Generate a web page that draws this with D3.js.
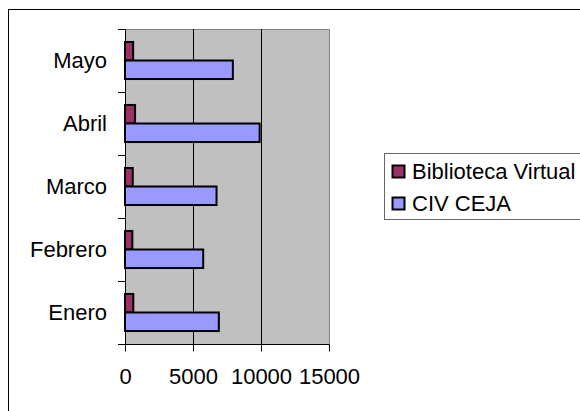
<!DOCTYPE html>
<html>
<head>
<meta charset="utf-8">
<script src="https://cdn.jsdelivr.net/npm/d3@7"></script>
<style>
  html, body { margin: 0; padding: 0; background: #fff; }
  svg { display: block; font-family: "Liberation Sans", Arial, sans-serif; }
</style>
</head>
<body>
<svg id="chart" width="580" height="411"></svg>
<script>
const categories = ["Enero", "Febrero", "Marco", "Abril", "Mayo"];
const seriesNames = ["Biblioteca Virtual", "CIV CEJA"];
const bibliotecaVirtual = [610, 540, 570, 740, 600];
const civCeja = [6900, 5750, 6730, 9900, 7930];
const xTicks = [0, 5000, 10000, 15000];
const seriesColors = ["#993366", "#9999FF"];

const seriesValues = [bibliotecaVirtual, civCeja];
const svg = d3.select("#chart");
const FS = 22;

const plot = { left: 125, right: 329, top: 29, bottom: 344 };

// outer border
svg.append("rect")
  .attr("x", 8.5).attr("y", 9.5)
  .attr("width", 620).attr("height", 430)
  .attr("fill", "#fff").attr("stroke", "#000").attr("stroke-width", 1);

const x = d3.scaleLinear().domain([0, 15000]).range([plot.left, plot.right]);
const y = d3.scaleBand().domain(categories).range([plot.bottom, plot.top]).paddingInner(0).paddingOuter(0);
const y1 = d3.scaleBand().domain(seriesNames).range([0, y.bandwidth()]).paddingInner(0).paddingOuter(0.7);

// plot background
svg.append("rect")
  .attr("x", plot.left).attr("y", plot.top)
  .attr("width", plot.right - plot.left).attr("height", plot.bottom - plot.top)
  .attr("fill", "#C0C0C0");
svg.append("path")
  .attr("d", `M${plot.left},${plot.top + 0.5}H${plot.right + 0.5}V${plot.bottom}`)
  .attr("fill", "none").attr("stroke", "#808080").attr("stroke-width", 1);

// gridlines
svg.append("g").selectAll("line")
  .data(xTicks.filter(t => t > 0 && t < 15000))
  .join("line")
  .attr("x1", d => Math.round(x(d)) + 0.5).attr("x2", d => Math.round(x(d)) + 0.5)
  .attr("y1", plot.top).attr("y2", plot.bottom)
  .attr("stroke", "#000").attr("stroke-width", 1);

// bars
const rows = categories.map((c, i) => ({ cat: c, vals: seriesNames.map((s, j) => ({ s, j, v: seriesValues[j][i] })) }));
const groups = svg.append("g").selectAll("g")
  .data(rows).join("g")
  .attr("transform", d => `translate(0,${y(d.cat)})`);
groups.selectAll("rect")
  .data(d => d.vals).join("rect")
  .attr("x", x(0))
  .attr("y", d => y1(d.s))
  .attr("width", d => x(d.v) - x(0))
  .attr("height", y1.bandwidth())
  .attr("fill", d => seriesColors[d.j])
  .attr("stroke", "#000").attr("stroke-width", 2);

// left axis labels
const yAxis = d3.axisLeft(y).tickSize(0).tickPadding(18);
const gy = svg.append("g").attr("transform", `translate(${plot.left},0)`).call(yAxis);
gy.select(".domain").remove();
gy.selectAll("text").attr("font-size", FS).attr("fill", "#000")
  .attr("font-family", "Liberation Sans, Arial, sans-serif");
// left axis line and boundary ticks
const bounds = categories.map(c => y(c)).concat([plot.bottom]);
svg.append("line")
  .attr("x1", plot.left + 0.5).attr("x2", plot.left + 0.5)
  .attr("y1", plot.top).attr("y2", plot.bottom)
  .attr("stroke", "#000").attr("stroke-width", 1);
svg.append("g").selectAll("line").data(bounds).join("line")
  .attr("x1", plot.left - 7).attr("x2", plot.left)
  .attr("y1", d => Math.round(d) + 0.5).attr("y2", d => Math.round(d) + 0.5)
  .attr("stroke", "#000").attr("stroke-width", 1);

// bottom axis
const xAxis = d3.axisBottom(x).tickValues(xTicks).tickSize(7).tickPadding(16.5).tickSizeOuter(0).tickFormat(d3.format("d"));
const gx = svg.append("g").attr("transform", `translate(0,${plot.bottom + 0.5})`).call(xAxis);
gx.select(".domain").attr("d", `M${plot.left - 7},0H${plot.right + 0.5}`).attr("stroke", "#000");
gx.selectAll("line").attr("stroke", "#000");
gx.selectAll("text").attr("font-size", FS).attr("fill", "#000")
  .attr("font-family", "Liberation Sans, Arial, sans-serif");

// legend
const lg = svg.append("g");
lg.append("rect")
  .attr("x", 384.5).attr("y", 153.5).attr("width", 230).attr("height", 66)
  .attr("fill", "#fff").attr("stroke", "#666").attr("stroke-width", 1);
const items = lg.selectAll("g.item").data(seriesNames).join("g").attr("class", "item")
  .attr("transform", (d, i) => `translate(392,${165 + i * 32})`);
items.append("rect")
  .attr("x", 0.5).attr("y", 0.5).attr("width", 12).attr("height", 12)
  .attr("fill", (d, i) => seriesColors[i]).attr("stroke", "#000").attr("stroke-width", 2);
items.append("text")
  .attr("x", 20).attr("y", 13.5)
  .attr("font-size", FS).attr("fill", "#000")
  .text(d => d);
</script>
</body>
</html>
